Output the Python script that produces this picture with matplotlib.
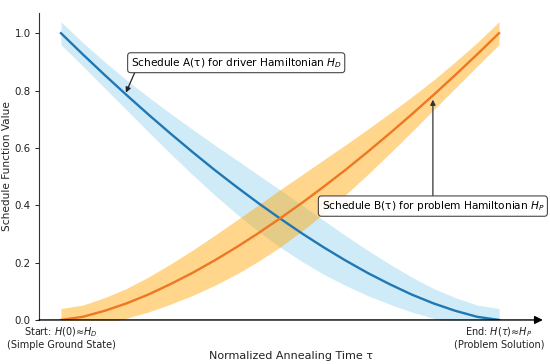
import matplotlib.pyplot as plt
import numpy as np

# Schedule values
tau = [0.0, 0.05, 0.1, 0.15, 0.2, 0.25, 0.3, 0.35, 0.4, 0.45, 0.5,
       0.55, 0.6, 0.65, 0.7, 0.75, 0.8, 0.85, 0.9, 0.95, 1.0]
sched_a = [1.0, 0.926, 0.854, 0.784, 0.716, 0.650, 0.586, 0.524, 0.465, 0.408, 0.354,
           0.302, 0.253, 0.207, 0.164, 0.125, 0.089, 0.058, 0.032, 0.011, 0.0]
sched_b = [0.0, 0.011, 0.032, 0.058, 0.089, 0.125, 0.164, 0.207, 0.253, 0.302, 0.354,
           0.408, 0.465, 0.524, 0.586, 0.650, 0.716, 0.784, 0.854, 0.926, 1.0]
# half-width of the shaded uncertainty bands
band = [0.040, 0.041, 0.046, 0.052, 0.061, 0.070, 0.079, 0.087, 0.094, 0.098, 0.100,
        0.098, 0.094, 0.087, 0.079, 0.070, 0.061, 0.052, 0.046, 0.041, 0.040]

xtick_pos = [0, 1]
xtick_labels = ['Start: $H(0)$≈$H_D$\n(Simple Ground State)',
                'End: $H(\\tau)$≈$H_P$\n(Problem Solution)']
label_a = 'Schedule A(τ) for driver Hamiltonian $H_D$'
label_b = 'Schedule B(τ) for problem Hamiltonian $H_P$'

t = np.array(tau)
a = np.array(sched_a)
b = np.array(sched_b)
w = np.array(band)

fig = plt.figure(figsize=(5.5, 3.64), dpi=100)
ax = fig.add_axes([0.071, 0.121, 0.916, 0.843])

ax.fill_between(t, a - w, a + w, color='skyblue', alpha=0.4, linewidth=0)
ax.fill_between(t, b - w, b + w, color='orange', alpha=0.45, linewidth=0)
ax.plot(t, a, color='#1f77b4', linewidth=1.7)
ax.plot(t, b, color='#ee7722', linewidth=1.7)

ax.set_xlim(-0.05, 1.1)
ax.set_ylim(0, 1.07)
ax.set_yticks(np.arange(0, 1.01, 0.2))
ax.set_yticklabels([f'{v:.1f}' for v in np.arange(0, 1.01, 0.2)])
ax.set_xticks(xtick_pos)
ax.set_xticklabels(xtick_labels, linespacing=1.1)
ax.tick_params(axis='x', length=0, labelsize=7.0, colors='#222222', pad=4)
ax.tick_params(axis='y', length=3, width=0.7, labelsize=7.4, colors='#222222', pad=3)

ax.set_xlabel('Normalized Annealing Time τ', fontsize=8.0, color='#222222', labelpad=1)
ax.set_ylabel('Schedule Function Value', fontsize=7.6, color='#222222', labelpad=2)

for side in ['top', 'right', 'bottom']:
    ax.spines[side].set_visible(False)
ax.spines['left'].set_linewidth(0.8)
ax.spines['left'].set_color('#333333')

# x-axis drawn as an arrow
ax.annotate('', xy=(1, 0), xytext=(0, 0), xycoords='axes fraction',
            arrowprops=dict(arrowstyle='-|>', color='black', lw=1.0,
                            mutation_scale=12, shrinkA=0, shrinkB=0))

box = dict(boxstyle='round,pad=0.3', fc='white', ec='#333333', lw=0.8, alpha=0.9)

ta = 0.147
ax.annotate(label_a, xy=(ta, np.interp(ta, t, a)), xytext=(0.40, 0.897),
            ha='center', va='center', fontsize=7.6, bbox=box,
            arrowprops=dict(arrowstyle='-|>', color='#222222', lw=0.9,
                            relpos=(0.025, 0), shrinkA=0, shrinkB=1))

tb = 0.849
ax.annotate(label_b, xy=(tb, np.interp(tb, t, b)), xytext=(tb, 0.397),
            ha='center', va='center', fontsize=7.6, bbox=box,
            annotation_clip=False,
            arrowprops=dict(arrowstyle='-|>', color='#333333', lw=0.9,
                            shrinkA=0, shrinkB=3))

plt.savefig('out.png', dpi=100)
